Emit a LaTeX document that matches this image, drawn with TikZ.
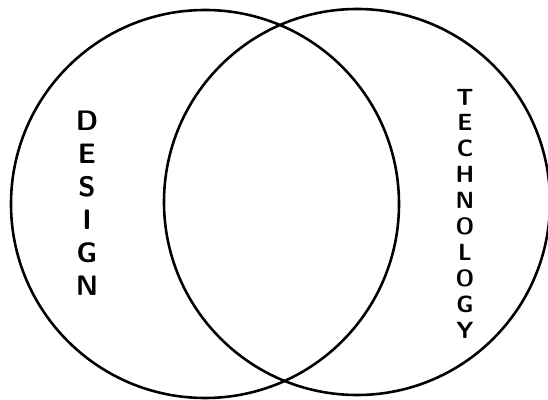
\documentclass[tikz,border=0pt]{standalone}
\usepackage{tikz}
\usetikzlibrary{positioning}

\begin{document}
\begin{tikzpicture}[
  x=0.03cm, y=-0.03cm,
  every node/.style={font=\sffamily\bfseries\fontsize{24}{24}\selectfont},
  setring/.style={draw=black, circle, line width=2.2pt, inner sep=0pt},
  letter/.style={inner sep=0pt, anchor=center},
  tletter/.style={letter, font=\sffamily\bfseries\fontsize{20}{20}\selectfont},
]
  \useasboundingbox (0,0) rectangle (548,400);

  % the two sets
  \node[setring, minimum size=11.64cm] (design) at (205,204) {};
  \node[setring, minimum size=11.58cm] (tech) at (357,202) {};

  % labels written top to bottom
  \foreach \ch [count=\i] in {D,E,S,I,G,N}
    \node[letter] (d\i) at (87, {121 + (\i-1)*33}) {\ch};
  \foreach \ch [count=\i] in {T,E,C,H,N,O,L,O,G,Y}
    \node[tletter] (t\i) at (465, {97 + (\i-1)*25.9}) {\ch};
\end{tikzpicture}
\end{document}
